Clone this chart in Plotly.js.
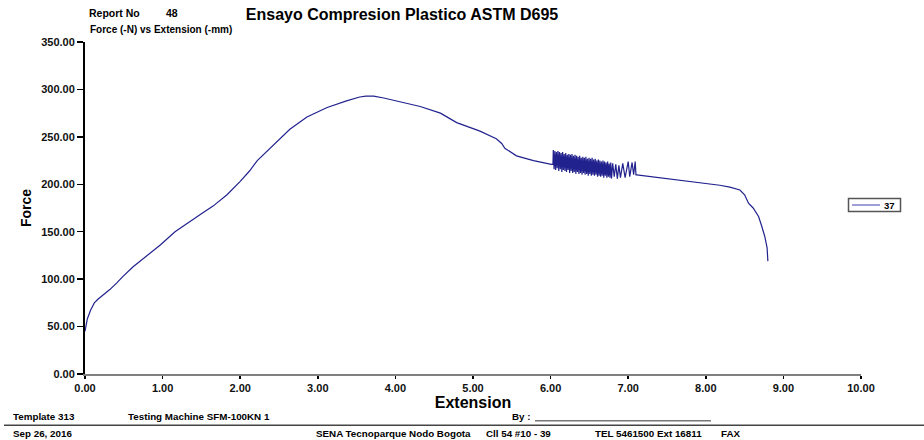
<!DOCTYPE html>
<html>
<head>
<meta charset="utf-8">
<script src="https://cdn.plot.ly/plotly-3.0.1.min.js"></script>
<style>html,body{margin:0;padding:0;background:#fff;}#chart{width:924px;height:440px;}</style>
</head>
<body>
<div id="chart"></div>
<script>
// ---- data ----
const seriesName = "37";
const extension = [
  0.00, 0.03, 0.07, 0.12, 0.17, 0.25, 0.32, 0.41, 0.49, 0.62, 0.80, 0.97, 1.16, 1.35, 1.50, 1.65, 1.83, 2.00, 2.12, 2.22,
  2.32, 2.43, 2.64, 2.86, 3.12, 3.37, 3.54, 3.62, 3.72, 3.85, 4.06, 4.32, 4.58, 4.79, 5.09, 5.30, 5.37, 5.41, 5.56, 5.78, 6.01,
  6.030, 6.035, 6.045, 6.055, 6.065, 6.075, 6.085, 6.095, 6.105, 6.115, 6.125, 6.135, 6.145, 6.155, 6.165, 6.175, 6.185, 6.195,
  6.205, 6.215, 6.225, 6.235, 6.245, 6.255, 6.265, 6.275, 6.285, 6.295, 6.305, 6.315, 6.325, 6.335, 6.345, 6.355, 6.365, 6.375,
  6.385, 6.395, 6.405, 6.415, 6.425, 6.435, 6.445, 6.455, 6.465, 6.475, 6.485, 6.495, 6.505, 6.515, 6.525, 6.535, 6.545, 6.555,
  6.565, 6.575, 6.585, 6.595, 6.605, 6.615, 6.625, 6.635, 6.645, 6.655, 6.665, 6.675, 6.685, 6.695, 6.705, 6.715, 6.725, 6.735,
  6.745, 6.755, 6.765, 6.775, 6.785, 6.80, 6.82, 6.84, 6.86, 6.88, 6.90, 6.93, 6.96, 7.00, 7.02, 7.05, 7.07, 7.09, 7.10,
  7.11, 7.41, 7.67, 7.93, 8.18, 8.31, 8.44, 8.50, 8.55, 8.61, 8.68, 8.72, 8.76, 8.79, 8.80
];
const force = [
  45, 58, 67, 75, 79, 84, 89, 96, 103, 113, 125, 136, 150, 161, 169, 177, 189, 203, 214, 225,
  233, 241, 258, 271, 281, 288, 292, 293, 293, 291, 287, 282, 275, 265, 256, 248, 243, 238, 230, 225, 221,
  221, 236, 216, 235, 215, 234, 217, 235, 214, 234, 216, 233, 213, 234, 215, 232, 214, 233,
  213, 231, 215, 232, 212, 231, 214, 232, 212, 230, 213, 231, 211, 230, 213, 229, 211, 230,
  212, 228, 210, 229, 212, 228, 210, 229, 211, 227, 209, 228, 211, 227, 209, 228, 210, 226,
  209, 227, 210, 225, 208, 226, 209, 225, 208, 224, 209, 225, 207, 224, 209, 223, 207, 224,
  208, 222, 207, 223, 206, 222, 208, 221, 206, 220, 207, 222, 207, 224, 208, 223, 210, 224, 210,
  210, 207, 204, 201, 199, 197, 194, 189, 180, 175, 166, 156, 145, 133, 119
];
const xTicks = [0, 1, 2, 3, 4, 5, 6, 7, 8, 9, 10];
const yTicks = [0, 50, 100, 150, 200, 250, 300, 350];

// ---- layout helpers (pixel -> paper) ----
const W = 924, H = 440;
const M = {l: 85, r: 63, t: 41.5, b: 65.5};
const pw = W - M.l - M.r, ph = H - M.t - M.b;
const px = v => (v - M.l) / pw;
const py = v => (H - M.b - v) / ph;
const FONT = "Arial, 'Liberation Sans', sans-serif";
const LINE_COLOR = "#22228f";

function note(text, x, y, size, bold, anchor) {
  return {
    text: bold ? "<b>" + text + "</b>" : text,
    xref: "paper", yref: "paper", x: px(x), y: py(y),
    xanchor: anchor || "left", yanchor: "middle", showarrow: false,
    font: {family: FONT, size: size, color: "#000"}
  };
}

const trace = {
  x: extension, y: force, type: "scatter", mode: "lines", name: seriesName,
  line: {color: LINE_COLOR, width: 1.2}, showlegend: false
};

const FS = 9.8;
const layout = {
  width: W, height: H,
  margin: M,
  paper_bgcolor: "#fff", plot_bgcolor: "#fff",
  title: {
    text: "<b>Ensayo Compresion Plastico ASTM D695</b>",
    xref: "container", yref: "container", x: 402 / W, y: 1 - 14 / H,
    xanchor: "center", yanchor: "middle",
    font: {family: FONT, size: 16, color: "#000"}
  },
  xaxis: {
    range: [0, 10], tickvals: xTicks, tickformat: ".2f",
    showgrid: false, zeroline: false,
    showline: true, linecolor: "#808080", linewidth: 2,
    ticks: "outside", ticklen: 3, tickwidth: 1.5, tickcolor: "#000",
    tickfont: {family: FONT, size: 11, color: "#111", weight: "bold"},
    title: {text: "<b>Extension</b>", standoff: 3, font: {family: FONT, size: 16, color: "#000"}}
  },
  yaxis: {
    range: [0, 350], tickvals: yTicks, tickformat: ".2f",
    showgrid: false, zeroline: false,
    showline: true, linecolor: "#000", linewidth: 2,
    ticks: "outside", ticklen: 6, tickwidth: 1.5, tickcolor: "#000",
    tickfont: {family: FONT, size: 11, color: "#111", weight: "bold"},
    title: {text: "<b>Force</b>", standoff: 6, font: {family: FONT, size: 14, color: "#000"}}
  },
  showlegend: false,
  annotations: [
    note("Report No", 87, 12, 10.5, true),
    note("48", 164, 12, 10.5, true),
    note("Force (-N) vs Extension (-mm)", 88, 29, 10, true),
    note(seriesName, 882, 205, 9.5, true),
    note("Template 313", 11, 417, FS, true),
    note("Testing Machine SFM-100KN 1", 126, 417, FS, true),
    note("By :", 510, 417, FS, true),
    note("Sep 26, 2016", 11, 434, FS, true),
    note("SENA Tecnoparque Nodo Bogota", 314, 434, FS, true),
    note("Cll 54 #10 - 39", 484, 434, FS, true),
    note("TEL 5461500 Ext 16811", 593, 434, FS, true),
    note("FAX", 719, 434, FS, true)
  ],
  shapes: [
    // legend box and sample line
    {type: "rect", xref: "paper", yref: "paper", x0: px(848.5), x1: px(900.5), y0: py(198.5), y1: py(211.5),
     line: {color: "#555", width: 1.5}, fillcolor: "#fff"},
    {type: "line", xref: "paper", yref: "paper", x0: px(852), x1: px(880), y0: py(205), y1: py(205),
     line: {color: "#7f7fc8", width: 1.5}},
    // footer rules
    {type: "line", xref: "paper", yref: "paper", x0: px(4), x1: px(924), y0: py(426), y1: py(426),
     line: {color: "#444", width: 1.5}},
    {type: "line", xref: "paper", yref: "paper", x0: px(535), x1: px(711), y0: py(421.5), y1: py(421.5),
     line: {color: "#333", width: 1}}
  ]
};

Plotly.newPlot("chart", [trace], layout, {displayModeBar: false, staticPlot: true});
</script>
</body>
</html>
